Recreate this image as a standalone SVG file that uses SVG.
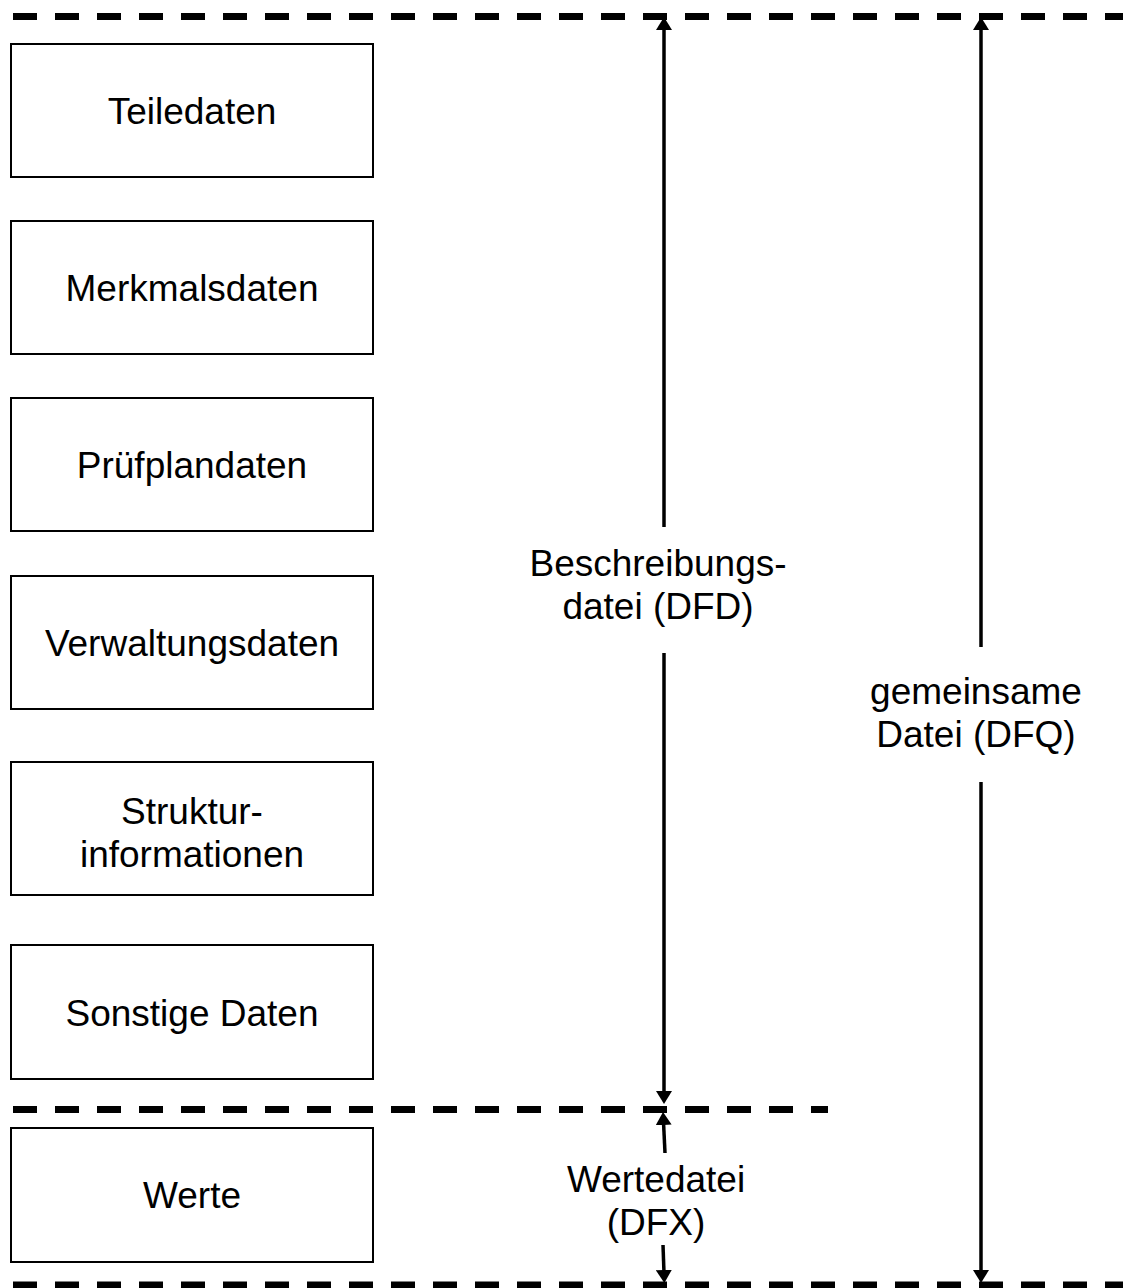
<svg xmlns="http://www.w3.org/2000/svg" width="1123" height="1288" viewBox="0 0 1123 1288">
  <style>
    .box { fill: #ffffff; stroke: #000000; stroke-width: 2; }
    .lbl { font-family: "Liberation Sans", Arial, sans-serif; font-size: 37px; fill: #000000; text-anchor: middle; }
    .sep { stroke: #000000; stroke-width: 7; stroke-dasharray: 24 18; fill: none; }
    .dim { stroke: #000000; stroke-width: 3.5; fill: none; }
  </style>
  <defs>
    <!-- filled arrowhead; tip sits 10px beyond the line end -->
    <marker id="head" markerUnits="userSpaceOnUse" markerWidth="13" markerHeight="16" refX="3" refY="8" viewBox="0 0 13 16" orient="auto">
      <path d="M0,0 L13,8 L0,16 Z" fill="#000000"/>
    </marker>
  </defs>

  <rect width="1123" height="1288" fill="#ffffff"/>

  <!-- section boundaries -->
  <g id="separators">
    <line class="sep" x1="13" y1="16.5" x2="1123" y2="16.5"/>
    <line class="sep" x1="13" y1="1109.5" x2="828" y2="1109.5"/>
    <line class="sep" x1="13" y1="1285" x2="1123" y2="1285"/>
  </g>

  <!-- record groups -->
  <g id="teiledaten">
    <rect class="box" x="11" y="44" width="362" height="133"/>
    <text class="lbl" x="192" y="124">Teiledaten</text>
  </g>
  <g id="merkmalsdaten">
    <rect class="box" x="11" y="221" width="362" height="133"/>
    <text class="lbl" x="192" y="301">Merkmalsdaten</text>
  </g>
  <g id="pruefplandaten">
    <rect class="box" x="11" y="398" width="362" height="133"/>
    <text class="lbl" x="192" y="478">Prüfplandaten</text>
  </g>
  <g id="verwaltungsdaten">
    <rect class="box" x="11" y="576" width="362" height="133"/>
    <text class="lbl" x="192" y="656">Verwaltungsdaten</text>
  </g>
  <g id="strukturinformationen">
    <rect class="box" x="11" y="762" width="362" height="133"/>
    <text class="lbl" x="192" y="824">Struktur-</text>
    <text class="lbl" x="192" y="867">informationen</text>
  </g>
  <g id="sonstige-daten">
    <rect class="box" x="11" y="945" width="362" height="134"/>
    <text class="lbl" x="192" y="1026">Sonstige Daten</text>
  </g>
  <g id="werte">
    <rect class="box" x="11" y="1128" width="362" height="134"/>
    <text class="lbl" x="192" y="1208">Werte</text>
  </g>

  <!-- file extent labels -->
  <g id="dfd-label">
    <text class="lbl" x="658" y="576">Beschreibungs-</text>
    <text class="lbl" x="658" y="619">datei (DFD)</text>
  </g>
  <g id="dfq-label">
    <text class="lbl" x="976" y="704">gemeinsame</text>
    <text class="lbl" x="976" y="747">Datei (DFQ)</text>
  </g>
  <g id="dfx-label">
    <text class="lbl" x="656" y="1192">Wertedatei</text>
    <text class="lbl" x="656" y="1235">(DFX)</text>
  </g>

  <!-- extent arrows -->
  <g id="connectors">
    <line class="dim" x1="664" y1="527" x2="664" y2="27" marker-end="url(#head)"/>
    <line class="dim" x1="664" y1="653" x2="664" y2="1094" marker-end="url(#head)"/>
    <line class="dim" x1="665" y1="1153" x2="663.5" y2="1122" marker-end="url(#head)"/>
    <line class="dim" x1="663" y1="1245" x2="664" y2="1273" marker-end="url(#head)"/>
    <line class="dim" x1="981" y1="647" x2="981" y2="27" marker-end="url(#head)"/>
    <line class="dim" x1="981" y1="782" x2="981" y2="1273" marker-end="url(#head)"/>
  </g>
</svg>
